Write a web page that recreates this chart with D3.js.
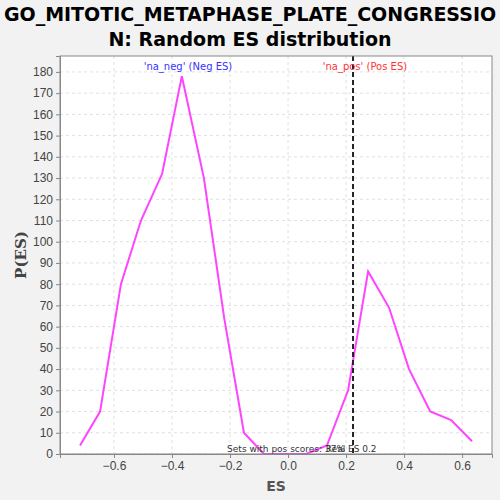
<!DOCTYPE html>
<html><head><meta charset="utf-8">
<script src="https://cdn.jsdelivr.net/npm/d3@7"></script>
<style>body{margin:0;background:#f2f2f2}</style>
</head><body><div id="chart"></div>
<script>
const esValues = [-0.717, -0.648, -0.576, -0.507, -0.434, -0.366, -0.29, -0.22, -0.152, -0.083, -0.01, 0.062, 0.134, 0.207, 0.276, 0.348, 0.417, 0.49, 0.562, 0.634];
const densities = [4, 20, 80, 110, 132, 178, 130, 64, 10, 0, 0, 0, 4, 30, 86, 69, 40, 20, 16, 6];
const xTicks = [-0.6, -0.4, -0.2, 0.0, 0.2, 0.4, 0.6];
const yTicks = d3.range(0, 181, 10);
const realES = 0.224;
const titleLines = ['GO_MITOTIC_METAPHASE_PLATE_CONGRESSIO', 'N: Random ES distribution'];

const W = 500, H = 500;
const margin = { top: 56, right: 8, bottom: 46, left: 60 };
const w = W - margin.left - margin.right, h = H - margin.top - margin.bottom;

const svg = d3.select('#chart').append('svg')
  .attr('width', W).attr('height', H)
  .style('font-family', "'DejaVu Sans', sans-serif");
svg.append('rect').attr('width', W).attr('height', H).attr('fill', '#f2f2f2');

svg.selectAll('.title').data(titleLines).join('text')
  .attr('x', W / 2).attr('y', (d, i) => 21 + i * 25)
  .attr('text-anchor', 'middle').attr('font-weight', 'bold').attr('font-size', '19px')
  .text(d => d);

const g = svg.append('g').attr('transform', `translate(${margin.left},${margin.top})`);
const x = d3.scaleLinear().domain([-0.786, 0.703]).range([0, w]);
const y = d3.scaleLinear().domain([0, 187.5]).range([h, 0]);

g.append('rect').attr('width', w).attr('height', h).attr('fill', '#fff');

g.selectAll('.gy').data(yTicks).join('line')
  .attr('x1', 0).attr('x2', w).attr('y1', d => y(d)).attr('y2', d => y(d))
  .attr('stroke', '#e0e0e0').attr('stroke-dasharray', '3,3');
g.selectAll('.gx').data(xTicks).join('line')
  .attr('y1', 0).attr('y2', h).attr('x1', d => x(d)).attr('x2', d => x(d))
  .attr('stroke', '#e0e0e0').attr('stroke-dasharray', '3,3');

g.append('path').datum(esValues.map((v, i) => [v, densities[i]]))
  .attr('d', d3.line().x(d => x(d[0])).y(d => y(d[1])))
  .attr('fill', 'none').attr('stroke', '#ff44ff').attr('stroke-width', 2);

g.append('line').attr('x1', x(realES)).attr('x2', x(realES)).attr('y1', 0).attr('y2', h)
  .attr('stroke', '#222').attr('stroke-width', 2).attr('stroke-dasharray', '5,3');

g.append('text').attr('x', x(-0.345)).attr('y', 14).attr('text-anchor', 'middle')
  .attr('font-size', '10px').attr('fill', '#3333ff').text("'na_neg' (Neg ES)");
g.append('text').attr('x', x(0.265)).attr('y', 14).attr('text-anchor', 'middle')
  .attr('font-size', '10px').attr('fill', '#ff3333').text("'na_pos' (Pos ES)");
g.append('text').attr('x', x(-0.21)).attr('y', h - 2)
  .attr('font-size', '9px').attr('fill', '#333').text('Sets with pos scores: 37%');
g.append('text').attr('x', x(0.13)).attr('y', h - 2)
  .attr('font-size', '9px').attr('fill', '#333').text('Real ES 0.2');

g.append('rect').attr('width', w).attr('height', h).attr('fill', 'none').attr('stroke', '#888');

const xa = g.append('g').attr('transform', `translate(0,${h})`)
  .call(d3.axisBottom(x).tickValues(xTicks).tickFormat(d3.format('.1f')).tickSize(4));
const ya = g.append('g').call(d3.axisLeft(y).tickValues(yTicks).tickSize(4));
[xa, ya].forEach(a => {
  a.select('.domain').attr('stroke', '#888');
  a.selectAll('line').attr('stroke', '#888');
  a.selectAll('text').attr('font-size', '12px').attr('fill', '#444');
});

svg.append('text').attr('x', margin.left + w / 2).attr('y', 491).attr('text-anchor', 'middle')
  .attr('font-weight', 'bold').attr('font-size', '14px').attr('fill', '#555').text('ES');
svg.append('text').attr('transform', `translate(26,${margin.top + h / 2}) rotate(-90)`)
  .attr('text-anchor', 'middle').attr('font-family', "'DejaVu Serif', serif")
  .attr('font-weight', 'bold').attr('font-size', '15px').attr('fill', '#444').text('P(ES)');
</script></body></html>
